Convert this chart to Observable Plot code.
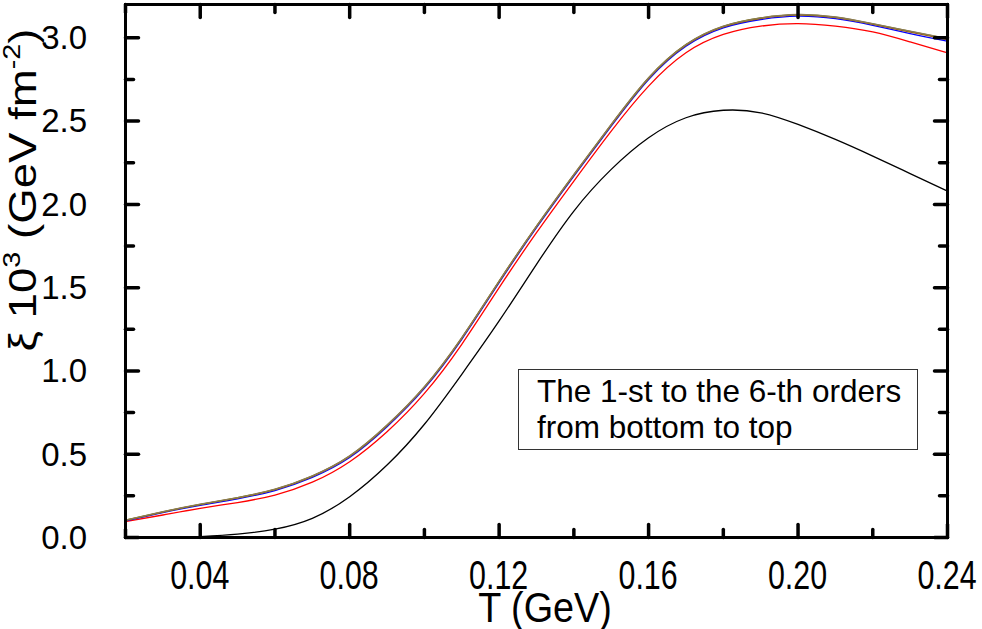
<!DOCTYPE html>
<html>
<head>
<meta charset="utf-8">
<script src="https://cdn.jsdelivr.net/npm/d3@7"></script>
<script src="https://cdn.jsdelivr.net/npm/@observablehq/plot@0.6"></script>
<style>
  html, body { margin: 0; padding: 0; background: #fff; }
  #wrap { position: relative; width: 982px; height: 629px; font-family: "Liberation Sans", Arial, sans-serif; }
  #legend {
    position: absolute; left: 518px; top: 369px; width: 400px; height: 81px;
    border: 1.5px solid #333; box-sizing: border-box; background: #fff;
    font-size: 31.5px; line-height: 36px; padding: 3px 0 0 18px; color: #000; white-space: nowrap;
  }
</style>
</head>
<body>
<div id="wrap"><div id="legend">The 1-st to the 6-th orders<br>from bottom to top</div></div>
<script>
// Temperature grid (GeV)
const T = [0.02,0.03,0.04,0.05,0.06,0.07,0.08,0.09,0.10,0.11,0.12,0.13,0.14,0.15,0.16,0.17,0.18,0.19,0.20,0.21,0.22,0.23,0.24];
// xi * 10^3 (GeV fm^-2) for the 1st..6th orders
const order1T = [0.04,0.05,0.06,0.07,0.08,0.09,0.10,0.11,0.12,0.13,0.14,0.15,0.16,0.17,0.18,0.19,0.20,0.21,0.22,0.23,0.24];
const order1 = [0.005,0.02,0.05,0.115,0.245,0.435,0.68,0.98,1.30,1.64,1.96,2.21,2.40,2.52,2.565,2.55,2.48,2.39,2.29,2.185,2.08];
const order2 = [0.095,0.135,0.175,0.21,0.255,0.332,0.455,0.635,0.865,1.16,1.50,1.83,2.14,2.44,2.71,2.91,3.02,3.07,3.085,3.07,3.035,2.975,2.91];
const order3 = [0.10,0.15,0.193,0.232,0.282,0.361,0.48,0.665,0.895,1.19,1.53,1.86,2.17,2.47,2.75,2.95,3.06,3.11,3.13,3.115,3.075,3.025,2.98];
const order4 = [0.103,0.153,0.197,0.237,0.287,0.367,0.486,0.671,0.901,1.196,1.536,1.866,2.176,2.476,2.756,2.956,3.066,3.116,3.136,3.121,3.081,3.034,2.99];
const order5 = [0.104,0.154,0.199,0.239,0.289,0.369,0.489,0.674,0.904,1.199,1.539,1.869,2.179,2.479,2.759,2.959,3.069,3.119,3.139,3.124,3.084,3.039,2.994];
const order6 = [0.105,0.155,0.20,0.24,0.29,0.37,0.49,0.675,0.905,1.20,1.54,1.87,2.18,2.48,2.76,2.96,3.07,3.12,3.14,3.125,3.085,3.04,2.995];
const colors = ["#000000","#ff0000","#0000ff","#a0522d","#808000","#8b7a55"];

const xMajor = [0.04,0.08,0.12,0.16,0.20,0.24];
const xMinor = [0.02,0.06,0.10,0.14,0.18,0.22];
const yMajor = [0,0.5,1.0,1.5,2.0,2.5,3.0];
const yMinor = [0.25,0.75,1.25,1.75,2.25,2.75];
const xTickLabels = ["0.04","0.08","0.12","0.16","0.20","0.24"];
const yTickLabels = ["0.0","0.5","1.0","1.5","2.0","2.5","3.0"];

(function () {
const W = 982, H = 629;
const mL = 125, mR = 35, mT = 4, mB = 92;
const FONT = "Liberation Sans, Arial, sans-serif";
const xDom = [0.02, 0.24], yDom = [0, 3.2];

const series = [
  order1T.map((t, i) => ({T: t, v: order1[i]})),
  T.map((t, i) => ({T: t, v: order2[i]})),
  T.map((t, i) => ({T: t, v: order3[i]})),
  T.map((t, i) => ({T: t, v: order4[i]})),
  T.map((t, i) => ({T: t, v: order5[i]})),
  T.map((t, i) => ({T: t, v: order6[i]}))
];
// straight tick shape for Plot.vector (points "up" before rotation)
const tickShape = {draw(context, l) { context.moveTo(0, 0); context.lineTo(0, -l); }};
const tk = {stroke: "#000", strokeWidth: 3.5, anchor: "start", shape: tickShape};

const chart = Plot.plot({
  width: W, height: H,
  marginLeft: mL, marginRight: mR, marginTop: mT, marginBottom: mB,
  style: {fontFamily: FONT, color: "#000", background: "#fff", overflow: "visible"},
  x: {domain: xDom, axis: null},
  y: {domain: yDom, axis: null},
  marks: [
    ...series.map((d, i) => Plot.line(d, {x: "T", y: "v", stroke: colors[i], strokeWidth: 1.3, curve: "natural", clip: true})),
    Plot.vector(xMajor, {x: d => d, y: yDom[0], length: 13, rotate: 0, ...tk}),
    Plot.vector(xMajor, {x: d => d, y: yDom[1], length: 13, rotate: 180, ...tk}),
    Plot.vector(xMinor, {x: d => d, y: yDom[0], length: 8, rotate: 0, ...tk}),
    Plot.vector(xMinor, {x: d => d, y: yDom[1], length: 8, rotate: 180, ...tk}),
    Plot.vector(yMajor, {x: xDom[0], y: d => d, length: 13, rotate: 90, ...tk}),
    Plot.vector(yMajor, {x: xDom[1], y: d => d, length: 13, rotate: -90, ...tk}),
    Plot.vector(yMinor, {x: xDom[0], y: d => d, length: 8, rotate: 90, ...tk}),
    Plot.vector(yMinor, {x: xDom[1], y: d => d, length: 8, rotate: -90, ...tk}),
    Plot.frame({stroke: "#000", strokeWidth: 3})
  ]
});

const xs = chart.scale("x"), ys = chart.scale("y");
const svg = d3.select(chart);
const pL = mL, pR = W - mR, pB = H - mB;

// x tick labels (tall, slightly narrow)
xMajor.forEach((v, i) => {
  svg.append("text")
    .attr("transform", `translate(${xs.apply(v)},${pB + 52}) scale(0.76,1)`)
    .attr("text-anchor", "middle").attr("font-size", 40).attr("font-family", FONT).attr("fill", "#000")
    .text(xTickLabels[i]);
});
// y tick labels
yMajor.forEach((v, i) => {
  svg.append("text")
    .attr("x", pL - 38).attr("y", ys.apply(v)).attr("dy", "0.36em")
    .attr("text-anchor", "end").attr("font-size", 33).attr("font-family", FONT).attr("fill", "#000")
    .text(yTickLabels[i]);
});

// x-axis title
svg.append("text")
  .attr("transform", `translate(${(pL + pR) / 2 + 9},622) scale(0.9,1)`)
  .attr("text-anchor", "middle")
  .attr("font-size", 42)
  .attr("font-family", FONT)
  .attr("fill", "#000")
  .text("T (GeV)");
// y-axis title with superscripts (stretched along its length)
const yt = svg.append("text")
  .attr("transform", "translate(36,190) rotate(-90) scale(1.2,1)")
  .attr("text-anchor", "middle")
  .attr("font-size", 38)
  .attr("font-family", FONT)
  .attr("fill", "#000");
yt.append("tspan").text("\u03BE 10");
yt.append("tspan").attr("font-size", 24).attr("dy", -16).text("3");
yt.append("tspan").attr("dy", 16).text(" (GeV fm");
yt.append("tspan").attr("font-size", 24).attr("dy", -16).text("-2");
yt.append("tspan").attr("dy", 16).text(")");

document.getElementById("wrap").prepend(chart);
})();
</script>
</body>
</html>
